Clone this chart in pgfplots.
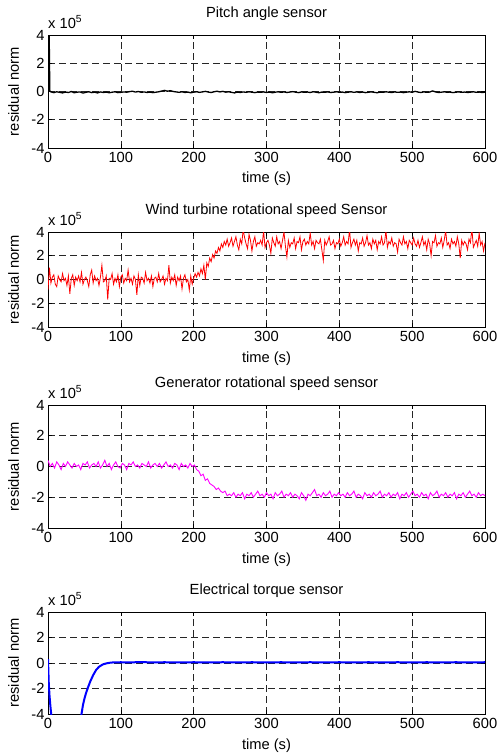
\documentclass[border=0pt]{standalone}
\usepackage{fontspec}
\setmainfont{Liberation Sans}
\usepackage{pgfplots}
\pgfplotsset{compat=1.18}
\definecolor{mag}{rgb}{1,0,1}
\definecolor{pureblue}{rgb}{0,0,1}
\definecolor{purered}{rgb}{1,0,0}

\newcommand{\fs}{\fontsize{14.7}{16}\selectfont}

\pgfplotsset{
  resid/.style={
    width=437pt, height=#1, scale only axis,
    xmin=0, xmax=600, ymin=-4, ymax=4,
    xtick={0,100,200,300,400,500,600}, ytick={-4,-2,0,2,4},
    grid=major,
    major grid style={black!85, dash pattern=on 7pt off 4pt, line width=0.6pt},
    tick align=inside, major tick length=4pt,
    xtick pos=both, ytick pos=both,
    xticklabel pos=lower, yticklabel pos=left,
    axis line style={black, line width=0.8pt},
    tick style={black, line width=0.6pt},
    xlabel={time (s)}, ylabel={residual norm},
    tick label style={font=\fs},
    label style={font=\fs}, title style={font=\fs},
    xticklabel style={yshift=-1pt},
    xlabel style={at={(axis description cs:0.5,0)}, anchor=base, yshift=-35pt},
    ylabel style={at={(axis description cs:-0.0664,0.5)}, anchor=base},
    title style={at={(axis description cs:0.5,1)}, anchor=base, yshift=12pt},
    /pgf/number format/assume math mode=true,
    clip=true,
  },
  exp/.style={
    after end axis/.code={
      \node[font=\fs, anchor=base west, inner sep=0pt]
        at (axis description cs:0,1) [yshift=7pt] {x 10\textsuperscript{5}};
    }
  }
}

\begin{document}
\begin{tikzpicture}
\path[use as bounding box] (0pt,0pt) rectangle (497pt,-755pt);

% ---------------- pitch angle
\begin{axis}[resid=113pt, exp, at={(48pt,-35pt)}, anchor=north west,
    title={Pitch angle sensor}]
\addplot[black, line width=1.3pt] coordinates {
(0,4.6)(1.5,4.6)(2.5,0.05)(4,-0.03)(8,-0.08)(12,-0.02)(16,-0.06)(20,-0.1)(24,-0.04)(28,-0.07)(32,0.0)(36,-0.09)(40,-0.05)(44,-0.03)(48,-0.11)(52,-0.06)(56,-0.02)(60,-0.08)(64,-0.05)(68,-0.1)(72,-0.03)(76,-0.07)(80,-0.04)(84,-0.09)(88,-0.05)(92,-0.02)(96,-0.08)(100,-0.06)(104,-0.03)(108,-0.05)(112,-0.01)(116,0.02)(120,-0.04)(124,0.0)(128,-0.06)(132,-0.03)(136,-0.07)(140,-0.04)(144,-0.08)(148,-0.05)(152,-0.02)(156,0.03)(160,0.08)(164,0.02)(168,0.06)(172,0.0)(176,-0.03)(180,-0.06)(184,-0.02)(188,-0.07)(192,-0.04)(196,-0.09)(200,-0.05)(204,-0.02)(208,-0.06)(212,-0.03)(216,0.01)(220,-0.04)(224,-0.07)(228,-0.02)(232,0.02)(236,-0.03)(240,0.01)(244,-0.05)(248,-0.02)(252,-0.06)(256,-0.1)(260,-0.04)(264,-0.07)(268,-0.03)(272,-0.06)(276,-0.02)(280,-0.05)(284,-0.08)(288,-0.04)(292,-0.06)(296,-0.03)(300,-0.07)(304,-0.04)(308,-0.09)(312,-0.05)(316,-0.02)(320,-0.06)(324,-0.03)(328,-0.07)(332,-0.04)(336,-0.01)(340,-0.05)(344,-0.08)(348,-0.03)(352,-0.06)(356,-0.04)(360,-0.07)(364,-0.02)(368,-0.05)(372,-0.09)(376,-0.04)(380,-0.06)(384,-0.03)(388,-0.07)(392,-0.05)(396,-0.02)(400,-0.06)(404,-0.04)(408,-0.08)(412,-0.05)(416,-0.02)(420,-0.06)(424,-0.03)(428,-0.07)(432,-0.04)(436,-0.08)(440,-0.05)(444,-0.03)(448,-0.06)(452,-0.09)(456,-0.04)(460,-0.06)(464,-0.02)(468,-0.05)(472,-0.07)(476,-0.03)(480,-0.06)(484,-0.04)(488,-0.08)(492,-0.05)(496,-0.02)(500,-0.06)(504,0.01)(508,-0.04)(512,-0.07)(516,-0.03)(520,-0.06)(524,-0.04)(528,0.04)(532,-0.03)(536,-0.07)(540,-0.05)(544,-0.02)(548,-0.06)(552,-0.04)(556,-0.08)(560,-0.05)(564,-0.03)(568,-0.06)(572,-0.04)(576,-0.07)(580,-0.05)(584,-0.02)(588,-0.06)(592,-0.04)(596,-0.07)(600,-0.05)
};
\end{axis}

% ---------------- wind turbine rotational speed
\begin{axis}[resid=95pt, exp, at={(48pt,-232pt)}, anchor=north west,
    title={Wind turbine rotational speed Sensor}]
\addplot[purered, line width=0.8pt] coordinates {
(0,-0.9)(2,1.0)(4,-0.3)(6,0.2)(8,0.4)(10,-0.4)(12,-0.6)(14,0.3)(16,0.0)(18,-0.2)(20,0.5)(22,-0.1)(24,0.1)(26,-0.5)(28,0.3)(30,-1.2)(32,0.1)(34,0.4)(36,-0.5)(38,0.2)(40,-0.1)(42,0.3)(44,-0.2)(46,0.6)(48,-0.4)(50,0.0)(52,0.2)(54,-0.1)(56,-0.6)(58,0.4)(60,0.8)(62,-0.3)(64,0.3)(66,-0.1)(68,0.1)(70,-0.5)(72,0.2)(74,1.2)(76,-0.2)(78,-0.1)(80,0.3)(82,-1.7)(84,0.1)(86,0.0)(88,0.5)(90,-0.4)(92,0.1)(94,-0.2)(96,0.4)(98,-0.6)(100,0.2)(102,0.4)(104,-0.3)(106,0.1)(108,-0.1)(110,0.8)(112,-0.2)(114,0.1)(116,-0.4)(118,0.3)(120,0.0)(122,-1.3)(124,0.4)(126,-0.5)(128,0.2)(130,0.1)(132,-0.3)(134,0.6)(136,-0.1)(138,0.1)(140,-0.3)(142,0.3)(144,-0.6)(146,0.1)(148,0.2)(150,-0.2)(152,0.5)(154,-0.2)(156,0.0)(158,0.3)(160,-0.4)(162,0.1)(164,-0.1)(166,1.2)(168,-0.3)(170,0.2)(172,-0.1)(174,0.4)(176,-0.5)(178,0.2)(180,-0.1)(182,0.3)(184,-0.8)(186,0.1)(188,0.4)(190,-0.2)(192,0.0)(194,-0.9)(196,0.3)(198,-0.4)
(200,0.1)(202,0.5)(204,0.2)(206,0.6)(208,0.3)(210,0.9)(212,0.5)(214,1.2)(216,0.0)(218,1.4)(220,1.1)(222,1.8)(224,1.5)(226,2.1)(228,1.8)(230,2.4)(232,2.2)(234,2.7)(236,2.4)(238,3.0)(240,2.7)(242,3.2)(244,2.9)(246,3.4)(248,2.8)(250,3.1)
(252,3.5)(254,2.8)(256,3.2)(258,3.6)(260,2.9)(262,2.5)(264,3.4)(266,3.0)(268,4.2)(270,3.5)(272,3.0)(274,2.6)(276,3.8)(278,3.3)(280,2.4)(282,3.2)(284,3.6)(286,2.8)(288,3.1)(290,3.0)(292,3.3)(294,2.9)(296,4.1)(298,2.7)(300,3.1)(302,3.3)(304,2.9)(306,2.2)(308,3.5)(310,3.1)(312,2.8)(314,3.6)(316,3.0)(318,3.2)(320,2.6)(322,3.3)(324,4.0)(326,2.8)(328,1.9)(330,3.3)(332,2.7)(334,3.1)(336,3.0)(338,3.5)(340,2.6)(342,3.2)(344,3.1)(346,3.6)(348,2.5)(350,3.2)(352,3.4)(354,2.9)(356,3.2)(358,3.0)(360,3.9)(362,2.9)(364,3.2)(366,2.6)(368,3.3)(370,3.1)(372,3.0)(374,3.4)(376,2.5)(378,1.6)(380,3.3)(382,2.9)(384,3.2)(386,3.6)(388,2.9)(390,3.0)(392,3.3)(394,2.6)(396,3.1)(398,3.0)(400,3.4)(402,2.8)(404,3.1)(406,3.6)(408,2.9)(410,3.2)(412,3.0)(414,4.2)(416,2.7)(418,3.1)(420,3.4)(422,2.9)(424,3.3)(426,2.4)(428,3.1)(430,3.0)(432,3.5)(434,2.8)(436,3.1)(438,3.7)(440,2.9)(442,3.1)(444,2.6)(446,3.4)(448,3.0)(450,3.3)(452,2.5)(454,3.2)(456,3.0)(458,3.6)(460,2.9)(462,3.1)(464,4.1)(466,2.7)(468,3.2)(470,3.0)(472,3.5)(474,2.8)(476,3.1)(478,3.0)(480,2.3)(482,3.4)(484,3.1)(486,2.9)(488,3.6)(490,3.0)(492,3.2)(494,2.6)(496,3.3)(498,3.1)(500,2.9)(502,3.5)(504,3.0)(506,2.8)(508,3.3)(510,2.7)(512,3.1)(514,3.6)(516,2.9)(518,3.2)(520,2.5)(522,3.4)(524,3.0)(526,2.0)(528,3.2)(530,3.1)(532,3.7)(534,2.8)(536,3.1)(538,3.0)(540,3.5)(542,2.7)(544,3.3)(546,4.1)(548,2.9)(550,3.1)(552,2.6)(554,3.4)(556,3.0)(558,3.2)(560,2.8)(562,3.6)(564,3.0)(566,1.8)(568,3.3)(570,2.9)(572,3.2)(574,3.0)(576,2.5)(578,3.4)(580,3.1)(582,4.3)(584,2.7)(586,3.0)(588,3.3)(590,2.8)(592,3.9)(594,2.9)(596,3.2)(598,2.4)(600,3.1)
};
\end{axis}

% ---------------- generator rotational speed
\begin{axis}[resid=123pt, exp, at={(48pt,-405pt)}, anchor=north west,
    title={Generator rotational speed sensor}]
\addplot[mag, line width=0.9pt] coordinates {
(0,0.4)(3,0.0)(6,0.2)(9,-0.1)(12,0.3)(15,0.1)(18,-0.2)(21,0.2)(24,0.0)(27,0.3)(30,0.1)(33,-0.1)(36,0.2)(39,0.0)(42,0.1)(45,-0.2)(48,0.2)(51,0.1)(54,0.3)(57,-0.1)(60,0.1)(63,0.2)(66,0.0)(69,0.3)(72,-0.1)(75,0.1)(78,0.4)(81,0.0)(84,0.2)(87,-0.2)(90,0.1)(93,0.3)(96,0.0)(99,-0.1)(102,0.2)(105,0.1)(108,-0.2)(111,0.2)(114,0.1)(117,0.3)(120,0.0)(123,0.1)(126,-0.1)(129,0.2)(132,0.1)(135,0.0)(138,0.3)(141,-0.1)(144,0.1)(147,0.2)(150,0.0)(153,0.2)(156,-0.1)(159,0.1)(162,0.3)(165,0.0)(168,0.1)(171,-0.1)(174,0.2)(177,0.1)(180,-0.2)(183,0.2)(186,0.0)(189,0.1)(192,-0.1)(195,0.2)(198,0.0)(201,0.1)(204,-0.2)(207,-0.3)(210,-0.6)(213,-0.5)(216,-0.9)(219,-0.8)(222,-1.1)(225,-1.2)(228,-1.3)(231,-1.5)(234,-1.4)(237,-1.6)(240,-1.7)(243,-1.6)(246,-1.9)(249,-1.8)(252,-1.9)(255,-1.7)(258,-2.0)(261,-1.8)(264,-1.9)(267,-1.7)(270,-2.1)(273,-1.8)(276,-1.9)(279,-1.7)(282,-2.0)(285,-1.8)(288,-1.6)(291,-1.9)(294,-1.8)(297,-2.0)(300,-1.7)(303,-1.9)(306,-1.8)(309,-2.1)(312,-1.7)(315,-1.9)(318,-1.8)(321,-1.6)(324,-2.0)(327,-1.8)(330,-1.9)(333,-1.7)(336,-2.0)(339,-1.8)(342,-1.9)(345,-2.1)(348,-1.7)(351,-1.9)(354,-2.2)(357,-1.8)(360,-1.9)(363,-1.7)(366,-1.5)(369,-1.9)(372,-1.8)(375,-2.0)(378,-1.7)(381,-1.9)(384,-1.8)(387,-1.6)(390,-2.0)(393,-1.8)(396,-1.9)(399,-1.7)(402,-1.9)(405,-1.8)(408,-2.0)(411,-1.7)(414,-1.9)(417,-1.8)(420,-1.6)(423,-2.0)(426,-1.8)(429,-1.9)(432,-2.1)(435,-1.7)(438,-1.9)(441,-1.8)(444,-2.0)(447,-1.7)(450,-1.9)(453,-1.8)(456,-1.6)(459,-2.0)(462,-1.8)(465,-1.9)(468,-1.7)(471,-2.0)(474,-1.8)(477,-1.9)(480,-1.7)(483,-2.1)(486,-1.8)(489,-1.9)(492,-1.7)(495,-2.0)(498,-1.8)(501,-1.6)(504,-1.9)(507,-1.8)(510,-2.0)(513,-1.7)(516,-1.9)(519,-1.8)(522,-2.1)(525,-1.7)(528,-1.9)(531,-1.8)(534,-1.6)(537,-2.0)(540,-1.8)(543,-1.9)(546,-1.7)(549,-2.0)(552,-1.8)(555,-1.9)(558,-1.7)(561,-2.1)(564,-1.8)(567,-1.9)(570,-1.7)(573,-2.0)(576,-1.8)(579,-1.6)(582,-1.9)(585,-1.8)(588,-2.0)(591,-1.7)(594,-1.9)(597,-1.8)(600,-1.9)
};
\end{axis}

% ---------------- electrical torque
\begin{axis}[resid=102pt, exp, at={(48pt,-612pt)}, anchor=north west,
    title={Electrical torque sensor}]
\addplot[pureblue, line width=2pt] coordinates {
(0,0.3)(0.5,-0.6)(1,-1.5)(2,-2.5)(3,-3.2)(4,-3.8)(5,-4.3)(8,-6)(15,-9)(25,-10)(35,-8.5)(42,-5.5)(46,-4.0)(48,-3.3)(50,-2.8)(52,-2.4)(55,-1.9)(58,-1.45)(62,-0.95)(66,-0.55)(70,-0.3)(75,-0.12)(80,-0.03)(85,0.02)(90,0.05)(100,0.06)(110,0.05)(120,0.06)(130,0.07)(140,0.05)(160,0.06)(180,0.05)(200,0.06)(220,0.05)(240,0.06)(260,0.05)(280,0.06)(300,0.05)(320,0.06)(340,0.05)(360,0.06)(380,0.05)(400,0.06)(420,0.05)(440,0.06)(460,0.05)(480,0.06)(500,0.05)(520,0.06)(540,0.05)(560,0.06)(580,0.05)(600,0.06)
};
\end{axis}
\end{tikzpicture}
\end{document}
